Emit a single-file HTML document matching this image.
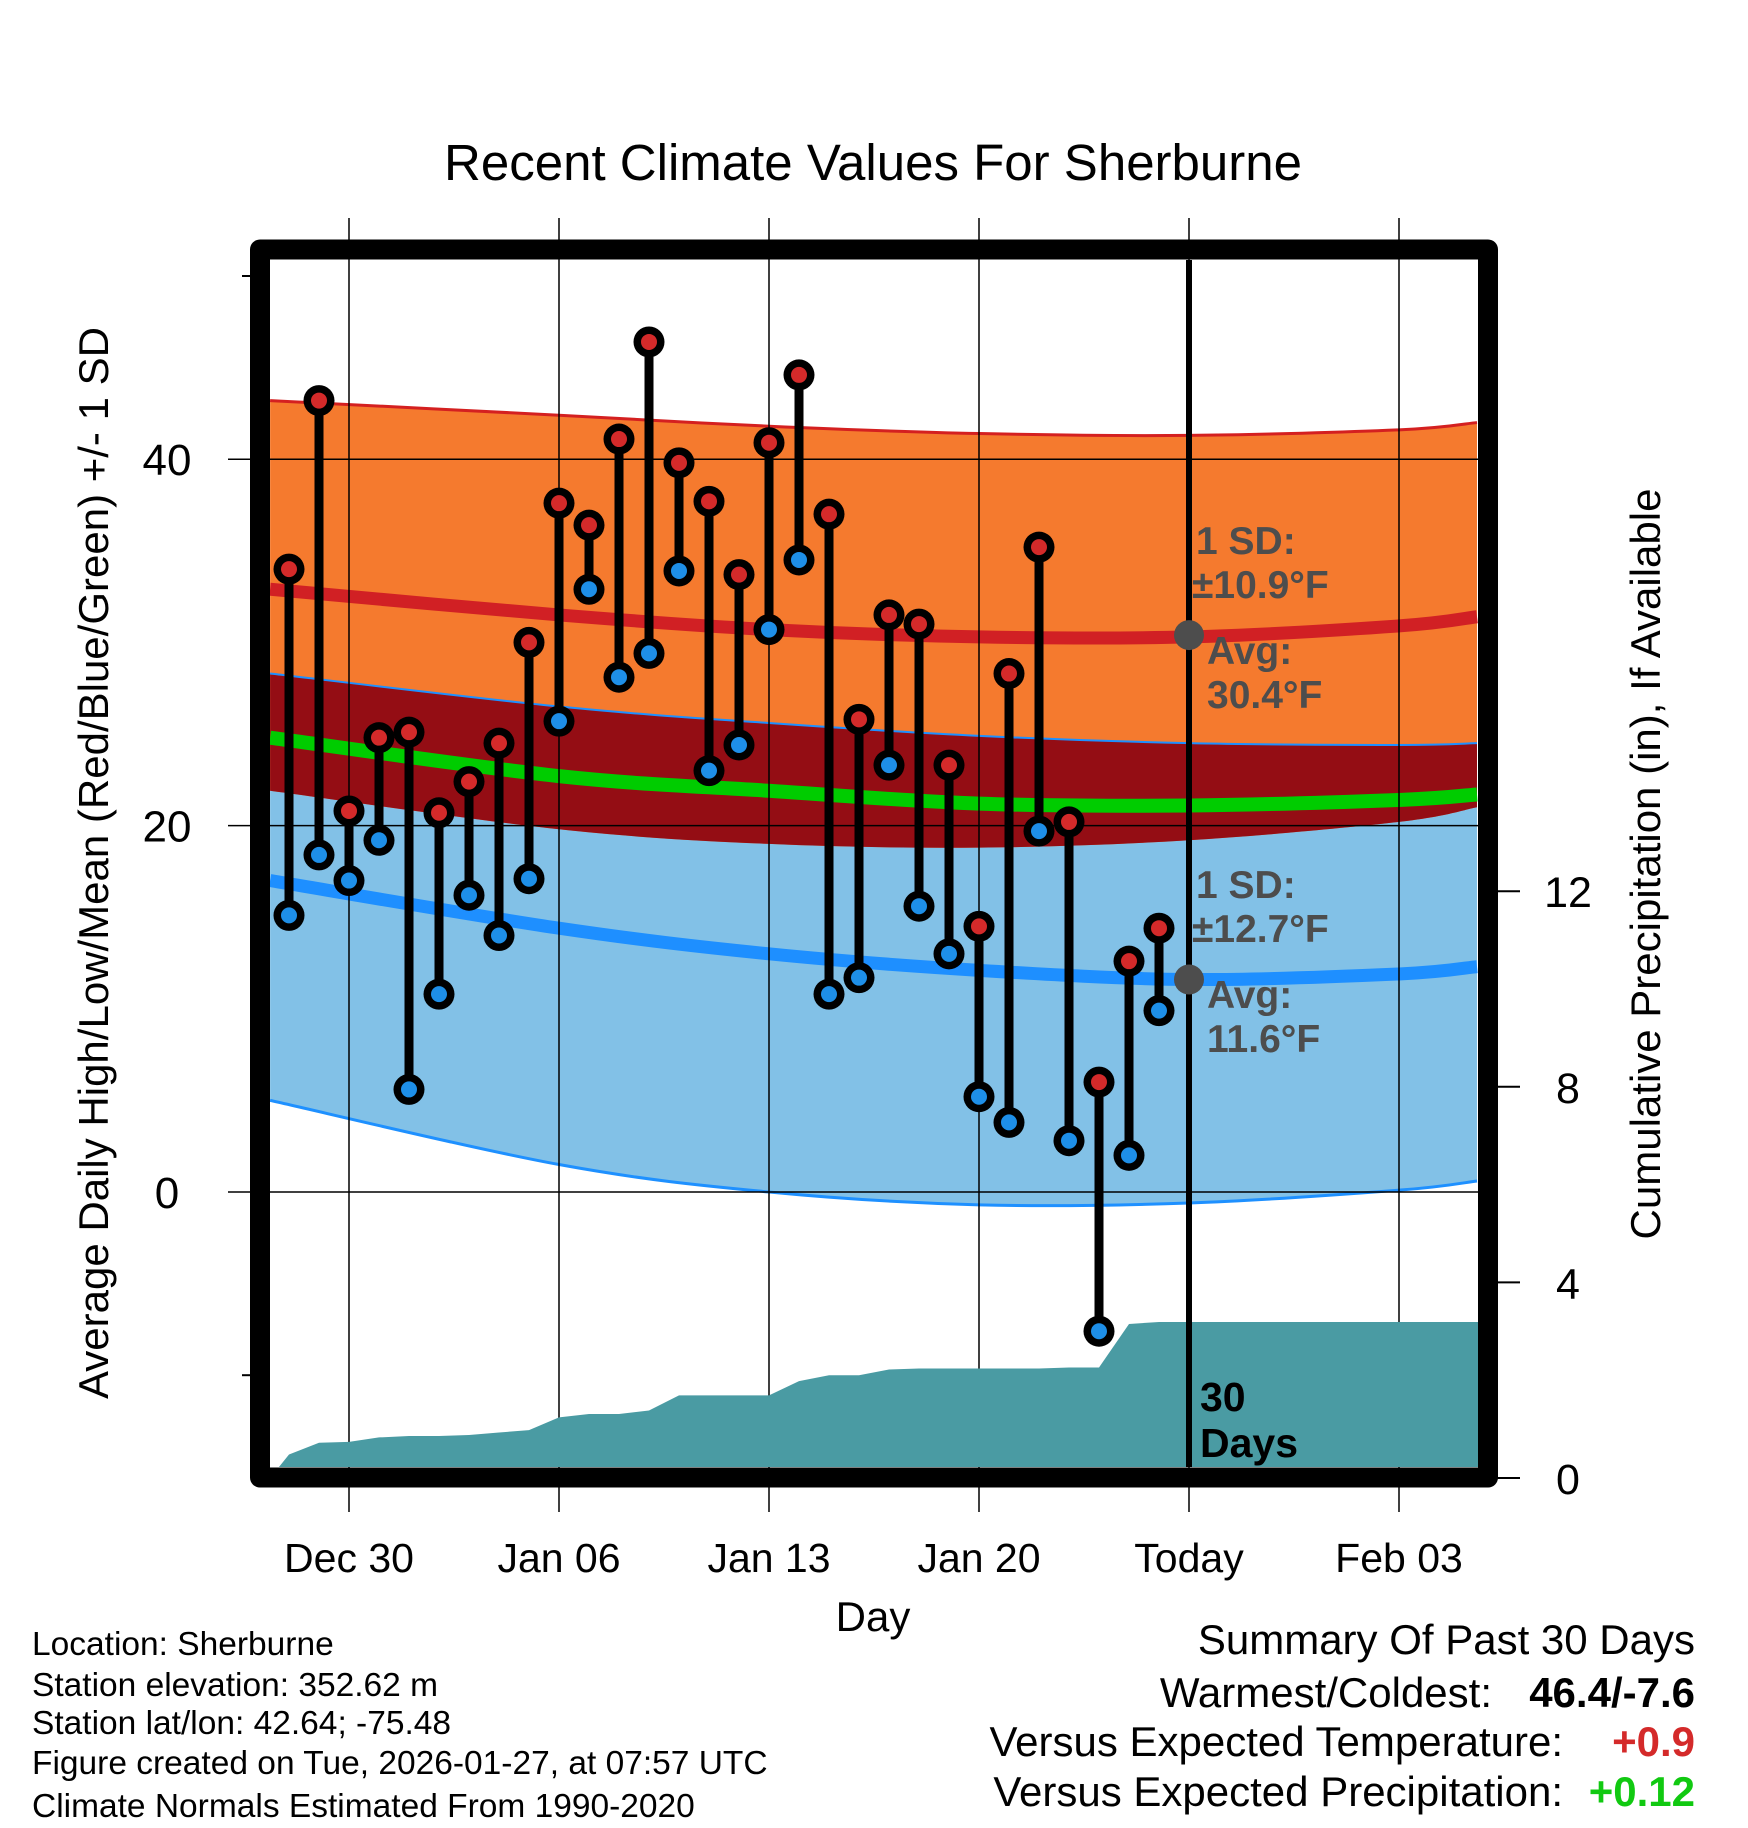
<!DOCTYPE html>
<html><head><meta charset="utf-8"><style>
html,body{margin:0;padding:0;background:#fff;}
svg{display:block;font-family:"Liberation Sans",Arial,sans-serif;}
</style></head><body>
<svg id="chart" width="1748" height="1828" viewBox="0 0 1748 1828" xmlns="http://www.w3.org/2000/svg">
<defs><clipPath id="plotclip"><rect x="270" y="260" width="1208" height="1207"/></clipPath></defs>
<rect x="0" y="0" width="1748" height="1828" fill="#fff"/>
<text x="873" y="180" font-size="51" text-anchor="middle">Recent Climate Values For Sherburne</text>
<g id="bands" clip-path="url(#plotclip)"></g>
<g id="grid"></g>
<g id="precip" clip-path="url(#plotclip)"></g>
<g id="marks"></g>
<rect x="260" y="249.5" width="1228" height="1228" fill="none" stroke="#000" stroke-width="20" stroke-linejoin="round"/>
<g id="axes"></g>
<g fill="#4d4d4d" font-weight="bold" font-size="39">
<text x="1196" y="554">1 SD:</text>
<text x="1192" y="598">±10.9°F</text>
<text x="1207" y="664">Avg:</text>
<text x="1207" y="708">30.4°F</text>
<text x="1196" y="898">1 SD:</text>
<text x="1192" y="942">±12.7°F</text>
<text x="1207" y="1008">Avg:</text>
<text x="1207" y="1052">11.6°F</text>
</g>
<g font-weight="bold" font-size="41">
<text x="1200" y="1411">30</text><text x="1200" y="1457">Days</text>
</g>
<text x="873" y="1631" font-size="42" text-anchor="middle">Day</text>
<text transform="translate(108,863) rotate(-90)" font-size="42" text-anchor="middle">Average Daily High/Low/Mean (Red/Blue/Green) +/- 1 SD</text>
<text transform="translate(1660,864) rotate(-90)" font-size="42" text-anchor="middle">Cumulative Precipitation (in), If Available</text>
<g font-size="33.5">
<text x="32" y="1655">Location: Sherburne</text>
<text x="32" y="1696">Station elevation: 352.62 m</text>
<text x="32" y="1734">Station lat/lon: 42.64; -75.48</text>
<text x="32" y="1774">Figure created on Tue, 2026-01-27, at 07:57 UTC</text>
<text x="32" y="1817">Climate Normals Estimated From 1990-2020</text>
</g>
<g font-size="42">
<text x="1695" y="1654" text-anchor="end">Summary Of Past 30 Days</text>
<text x="1492" y="1707" text-anchor="end">Warmest/Coldest:</text>
<text x="1695" y="1707" text-anchor="end" font-weight="bold">46.4/-7.6</text>
<text x="1563" y="1756" text-anchor="end">Versus Expected Temperature:</text>
<text x="1695" y="1756" text-anchor="end" font-weight="bold" fill="#d42a2a">+0.9</text>
<text x="1563" y="1806" text-anchor="end">Versus Expected Precipitation:</text>
<text x="1695" y="1806" text-anchor="end" font-weight="bold" fill="#11c911">+0.12</text>
</g>
</svg>
<script>
// Daily observations, days relative to Dec 30 (0)
const obsDays = [-2,-1,0,1,2,3,4,5,6,7,8,9,10,11,12,13,14,15,16,17,18,19,20,21,22,23,24,25,26,27];
const highs = [34.0,43.2,20.8,24.8,25.1,20.7,22.4,24.5,30.0,37.6,36.4,41.1,46.4,39.8,37.7,33.7,40.9,44.6,37.0,25.8,31.5,31.0,23.3,14.5,28.3,35.2,20.2,6.0,12.6,14.4];
const lows = [15.1,18.4,17.0,19.2,5.6,10.8,16.2,14.0,17.1,25.7,32.9,28.1,29.4,33.9,23.0,24.4,30.7,34.5,10.8,11.7,23.3,15.6,13.0,5.2,3.8,19.7,2.8,-7.6,2.0,9.9];
const precipCum = [0.48,0.72,0.74,0.83,0.86,0.86,0.88,0.93,0.98,1.24,1.31,1.31,1.38,1.69,1.69,1.69,1.69,1.98,2.10,2.10,2.22,2.24,2.24,2.24,2.24,2.24,2.26,2.26,3.15,3.19];
// Normals
const normDays = [-2.63,7,14,21,28,35,37.6];
const hiUpper = [43.2,42.4,41.8,41.4,41.3,41.6,42.0];
const hiMean  = [32.9,31.5,30.7,30.3,30.3,30.9,31.4];
const hiLower = [21.9,19.8,19.0,18.8,19.2,20.2,21.0];
const loUpper = [28.3,26.5,25.6,24.9,24.5,24.4,24.5];
const loMean  = [17.0,14.4,13.0,12.1,11.6,11.9,12.3];
const loLower = [5.0,1.5,0.0,-0.7,-0.6,0.1,0.6];
const avgMean = [24.8,22.7,21.9,21.2,21.1,21.4,21.7];
const xTickDays = [0,7,14,21,28,35];
const xTickLabels = ["Dec 30","Jan 06","Jan 13","Jan 20","Today","Feb 03"];
const yTicks = [0,20,40];
const yMinor = [-10,50];
const y2Ticks = [0,4,8,12];
const todayDay = 28;
const todayHiAvg = 30.4, todayLoAvg = 11.6;

const NS = "http://www.w3.org/2000/svg";
const X = d => 349 + 30*d;
const Y = t => 1192 - 18.32*t;
const Y2 = p => 1478 - 48.9*p;
function mk(tag, attrs, parent){const e=document.createElementNS(NS,tag);for(const k in attrs)e.setAttribute(k,attrs[k]);parent.appendChild(e);return e;}
function smooth(pts){let d="M"+pts[0][0]+","+pts[0][1];for(let i=0;i<pts.length-1;i++){const p0=pts[Math.max(0,i-1)],p1=pts[i],p2=pts[i+1],p3=pts[Math.min(pts.length-1,i+2)];const c1x=p1[0]+(p2[0]-p0[0])/6,c1y=p1[1]+(p2[1]-p0[1])/6,c2x=p2[0]-(p3[0]-p1[0])/6,c2y=p2[1]-(p3[1]-p1[1])/6;d+=" C"+c1x+","+c1y+" "+c2x+","+c2y+" "+p2[0]+","+p2[1];}return d;}
const P = arr => normDays.map((d,i)=>[X(d),Y(arr[i])]);
function band(top,bot){const a=smooth(P(top));const b=P(bot).reverse();const sb=smooth(b);return a+" L"+b[0][0]+","+b[0][1]+sb.slice(sb.indexOf(" C"))+" Z";}

const bands=document.getElementById('bands');
let e;
e=mk('path',{d:band(loUpper,loLower),fill:'#82c1e7'},bands);


e=mk('path',{d:band(hiUpper,hiLower),fill:'#f57a2e'},bands);


e=mk('path',{d:band(loUpper,hiLower),fill:'#940d14'},bands);


const lines=[[hiUpper,'#d42020',3,'high-upper-line'],[loUpper,'#1e90ff',2,'low-upper-line'],[loLower,'#1e90ff',3,'low-lower-line'],[hiMean,'#d12024',13,'high-mean-line'],[loMean,'#1e8fff',13,'low-mean-line'],[avgMean,'#00cc00',14,'mean-line']];
lines.forEach(l=>{const p=mk('path',{d:smooth(P(l[0])),fill:'none',stroke:l[1],'stroke-width':l[2]},bands);

});

const grid=document.getElementById('grid');
xTickDays.forEach(d=>{const g=mk('line',{x1:X(d),x2:X(d),y1:218,y2:1512,stroke:'#000','stroke-width':1.5},grid);

});
yTicks.forEach(t=>{const g=mk('line',{x1:228,x2:1478,y1:Y(t),y2:Y(t),stroke:'#000','stroke-width':1.5},grid);

});

const precip=document.getElementById('precip');
let pd="M"+X(-2.63)+","+Y2(0);
obsDays.forEach((d,i)=>{pd+=" L"+X(d)+","+Y2(precipCum[i]);});
pd+=" L"+X(37.7)+","+Y2(precipCum[precipCum.length-1])+" L"+X(37.7)+","+Y2(-1)+" L"+X(-2.63)+","+Y2(-1)+" Z";
e=mk('path',{d:pd,fill:'#4a9ba3'},precip);



const marks=document.getElementById('marks');
e=mk('line',{x1:X(todayDay),x2:X(todayDay),y1:260,y2:1467,stroke:'#000','stroke-width':6},marks);


[[todayHiAvg,'today-high-avg-dot'],[todayLoAvg,'today-low-avg-dot']].forEach(a=>{const c=mk('circle',{cx:X(todayDay),cy:Y(a[0]),r:15,fill:'#4d4d4d'},marks);

});
obsDays.forEach((d,i)=>{
  const s=mk('line',{x1:X(d),x2:X(d),y1:Y(highs[i]),y2:Y(lows[i]),stroke:'#000','stroke-width':9},marks);
  
  
  [[highs[i],'#d42a2a','high-point'],[lows[i],'#1e8fe8','low-point']].forEach(v=>{
    const o=mk('circle',{cx:X(d),cy:Y(v[0]),r:15.5,fill:'#000'},marks);
    
    
    const c=mk('circle',{cx:X(d),cy:Y(v[0]),r:8,fill:v[1]},marks);
    
    
  });
});

const axes=document.getElementById('axes');
xTickDays.forEach((d,i)=>{const t=mk('text',{x:X(d),y:1572,'font-size':41,'text-anchor':'middle'},axes);t.textContent=xTickLabels[i];

});
yTicks.forEach(v=>{const t=mk('text',{x:167,y:Y(v)+16,'font-size':44,'text-anchor':'middle'},axes);t.textContent=v;

});
yMinor.forEach(v=>{const t=mk('line',{x1:242,x2:252,y1:Y(v),y2:Y(v),stroke:'#000','stroke-width':2},axes);

});
y2Ticks.forEach(v=>{const l=mk('line',{x1:1496,x2:1520,y1:Y2(v),y2:Y2(v),stroke:'#000','stroke-width':2},axes);


const t=mk('text',{x:1568,y:Y2(v)+16,'font-size':43,'text-anchor':'middle'},axes);t.textContent=v;

});
</script>
</body></html>
